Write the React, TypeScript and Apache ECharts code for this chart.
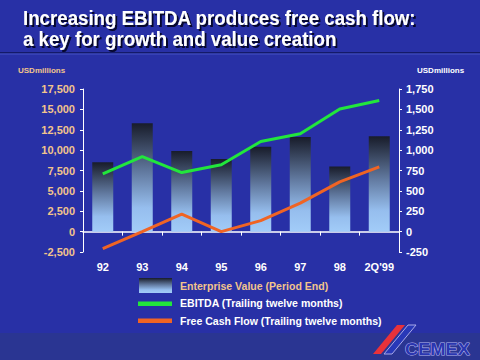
import React, { useEffect, useRef } from "react";
import * as echarts from "echarts";

const categories = ["92", "93", "94", "95", "96", "97", "98", "2Q'99"];
const enterpriseValue = [8500, 13300, 9900, 8900, 10400, 11600, 8000, 11700];
const ebitda = [710, 920, 725, 820, 1105, 1200, 1505, 1610];
const freeCashFlow = [-210, 0, 215, 0, 135, 350, 610, 795];
const titleLines = ["Increasing EBITDA produces free cash flow:", "a key for growth and value creation"];
const legendLabels = [
  "Enterprise Value (Period End)",
  "EBITDA (Trailing twelve months)",
  "Free Cash Flow (Trailing twelve months)",
];

const FONT = "Arial, 'Liberation Sans', sans-serif";
const TAN = "#f2c48c";

const barGradient = () =>
  new echarts.graphic.LinearGradient(0, 0, 0, 1, [
    { offset: 0, color: "#181c2a" },
    { offset: 0.45, color: "#627aa0" },
    { offset: 0.78, color: "#96beee" },
    { offset: 1, color: "#a2ccf8" },
  ]);

export default function App() {
  const ref = useRef<HTMLDivElement>(null);

  useEffect(() => {
    if (!ref.current) return;
    const chart = echarts.init(ref.current, undefined, { renderer: "svg" });
    const fmt = (v: number) => v.toLocaleString("en-US");

    chart.setOption({
      animation: false,
      backgroundColor: "#2830a6",
      textStyle: { fontFamily: FONT },
      grid: { left: 83, right: 81, top: 89, bottom: 108, containLabel: false },
      xAxis: {
        type: "category",
        data: categories,
        axisLine: { onZero: true, lineStyle: { color: "#ffffff", width: 1.5 } },
        axisTick: { show: true, length: 4, lineStyle: { color: "#ffffff" } },
        axisLabel: {
          margin: 9,
          color: "#ffffff",
          fontWeight: "bold",
          fontSize: 11,
          fontFamily: FONT,
        },
        splitLine: { show: false },
      },
      yAxis: [
        {
          type: "value",
          min: -2500,
          max: 17500,
          interval: 2500,
          position: "left",
          axisLine: { show: true, lineStyle: { color: "#ffffff" } },
          axisTick: { show: true, length: 3, lineStyle: { color: "#ffffff" } },
          axisLabel: {
            formatter: fmt,
            color: TAN,
            fontWeight: "bold",
            fontSize: 11,
            fontFamily: FONT,
            margin: 8,
          },
          splitLine: { show: false },
        },
        {
          type: "value",
          min: -250,
          max: 1750,
          interval: 250,
          position: "right",
          axisLine: { show: true, lineStyle: { color: "#ffffff" } },
          axisTick: { show: true, length: 3, lineStyle: { color: "#ffffff" } },
          axisLabel: {
            formatter: fmt,
            color: "#ffffff",
            fontWeight: "bold",
            fontSize: 11,
            fontFamily: FONT,
            margin: 7,
          },
          splitLine: { show: false },
        },
      ],
      series: [
        {
          name: legendLabels[0],
          type: "bar",
          yAxisIndex: 0,
          data: enterpriseValue,
          barWidth: 21,
          itemStyle: { color: barGradient() },
        },
        {
          name: legendLabels[1],
          type: "line",
          yAxisIndex: 1,
          data: ebitda,
          symbol: "none",
          lineStyle: { color: "#22e63c", width: 3 },
          itemStyle: { color: "#22e63c" },
          z: 3,
        },
        {
          name: legendLabels[2],
          type: "line",
          yAxisIndex: 1,
          data: freeCashFlow,
          symbol: "none",
          lineStyle: { color: "#f06424", width: 3 },
          itemStyle: { color: "#f06424" },
          z: 3,
        },
      ],
      graphic: [
        { type: "rect", shape: { x: 0, y: 52, width: 480, height: 1.5 }, style: { fill: "#141a68" }, z: 0 },
        { type: "rect", shape: { x: 0, y: 53.5, width: 480, height: 1 }, style: { fill: "#4452c4" }, z: 0 },
        { type: "rect", shape: { x: 0, y: 333, width: 480, height: 27 }, style: { fill: "#2a3592" }, z: 0 },
        {
          type: "text",
          x: 23,
          y: 18,
          scaleX: 0.89,
          style: {
            text: titleLines[0],
            fill: "#ffffff",
            font: `bold 21px ${FONT}`,
            verticalAlign: "middle",
            textShadowColor: "rgba(0,0,20,0.85)",
            textShadowOffsetX: 2,
            textShadowOffsetY: 2,
            textShadowBlur: 1,
          },
          z: 10,
        },
        {
          type: "text",
          x: 23,
          y: 39,
          scaleX: 0.89,
          style: {
            text: titleLines[1],
            fill: "#ffffff",
            font: `bold 21px ${FONT}`,
            verticalAlign: "middle",
            textShadowColor: "rgba(0,0,20,0.85)",
            textShadowOffsetX: 2,
            textShadowOffsetY: 2,
            textShadowBlur: 1,
          },
          z: 10,
        },
        {
          type: "text",
          x: 18,
          y: 70,
          style: { text: "USDmillions", fill: TAN, font: `bold 8px ${FONT}`, verticalAlign: "middle" },
        },
        {
          type: "text",
          x: 417,
          y: 70,
          style: { text: "USDmillions", fill: "#ffffff", font: `bold 8px ${FONT}`, verticalAlign: "middle" },
        },
        // legend
        { type: "rect", shape: { x: 139, y: 278, width: 33, height: 15 }, style: { fill: barGradient() } },
        { type: "rect", shape: { x: 138, y: 301.5, width: 34, height: 4.5 }, style: { fill: "#22e63c" } },
        { type: "rect", shape: { x: 138, y: 318.5, width: 34, height: 4.5 }, style: { fill: "#f06424" } },
        {
          type: "text",
          x: 180,
          y: 285.5,
          scaleX: 0.96,
          style: { text: legendLabels[0], fill: TAN, font: `bold 11px ${FONT}`, verticalAlign: "middle" },
        },
        {
          type: "text",
          x: 180,
          y: 303,
          scaleX: 0.96,
          style: { text: legendLabels[1], fill: "#ffffff", font: `bold 11px ${FONT}`, verticalAlign: "middle" },
        },
        {
          type: "text",
          x: 180,
          y: 320.5,
          scaleX: 0.96,
          style: { text: legendLabels[2], fill: "#ffffff", font: `bold 11px ${FONT}`, verticalAlign: "middle" },
        },
        // logo
        {
          type: "polygon",
          shape: { points: [[373, 354], [381, 354], [405, 325], [397, 325]] },
          style: { fill: "#e8323a" },
          z: 5,
        },
        {
          type: "polygon",
          shape: { points: [[384, 354], [392, 354], [416, 325], [408, 325]] },
          style: { fill: "#2838b8", stroke: "#a8a8e8", lineWidth: 1 },
          z: 5,
        },
        {
          type: "text",
          x: 405,
          y: 349,
          scaleX: 1.14,
          style: {
            text: "CEMEX",
            fill: "#2a36b0",
            stroke: "#b4b4f0",
            lineWidth: 1,
            font: `bold 16px ${FONT}`,
            verticalAlign: "middle",
          },
          z: 5,
        },
      ],
    });

    return () => chart.dispose();
  }, []);

  return (
    <div
      ref={ref}
      style={{ position: "fixed", left: 0, top: 0, width: 480, height: 360 }}
    />
  );
}
